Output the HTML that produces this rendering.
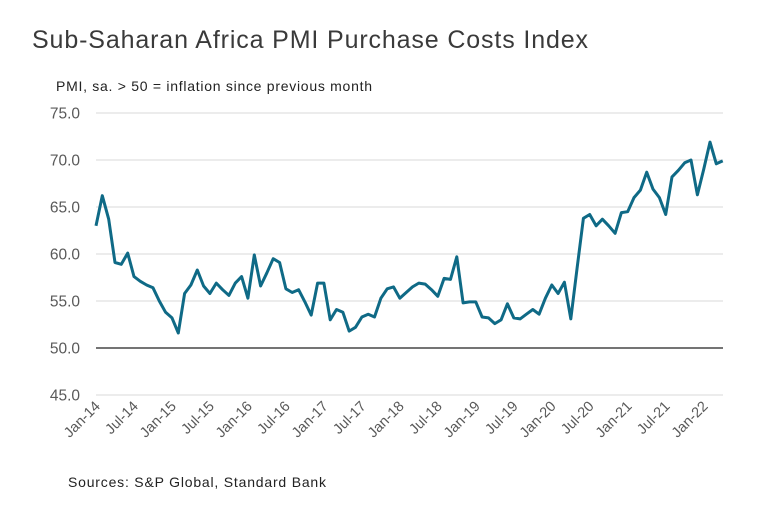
<!DOCTYPE html>
<html><head><meta charset="utf-8"><style>
body{margin:0;background:#fff;}
svg{display:block;font-family:"Liberation Sans",sans-serif;}
</style></head><body>
<svg id="chart" width="782" height="519">
<text x="32" y="48" font-size="25" fill="#3a3a3a" textLength="556" lengthAdjust="spacing">Sub-Saharan Africa PMI Purchase Costs Index</text>
<text x="56" y="91" font-size="14" fill="#222" textLength="316" lengthAdjust="spacing">PMI, sa. &gt; 50 = inflation  since previous  month</text>
<text x="68" y="487" font-size="14" fill="#222" textLength="258" lengthAdjust="spacing">Sources: S&amp;P Global, Standard Bank</text>
<g id="grid"></g><g id="xl"></g><g id="series"></g>
</svg>
<script>
const yTicks=[45,50,55,60,65,70,75];
const xTickLabels=["Jan-14","Jul-14","Jan-15","Jul-15","Jan-16","Jul-16","Jan-17","Jul-17","Jan-18","Jul-18","Jan-19","Jul-19","Jan-20","Jul-20","Jan-21","Jul-21","Jan-22"];
const pmiValues=[63.0,66.2,63.7,59.1,58.9,60.1,57.6,57.1,56.7,56.4,55.0,53.8,
53.2,51.6,55.8,56.7,58.3,56.6,55.8,56.9,56.2,55.6,56.9,57.6,
55.3,59.9,56.6,58.0,59.5,59.1,56.3,55.9,56.2,54.9,53.5,56.9,
56.9,53.0,54.1,53.8,51.8,52.2,53.3,53.6,53.3,55.3,56.3,56.5,
55.3,55.9,56.5,56.9,56.8,56.2,55.5,57.4,57.3,59.7,54.8,54.9,
54.9,53.3,53.2,52.6,53.0,54.7,53.2,53.1,53.6,54.1,53.6,55.3,
56.7,55.8,57.0,53.1,58.5,63.8,64.2,63.0,63.7,63.0,62.2,64.4,
64.5,66.0,66.8,68.7,66.9,66.0,64.2,68.2,68.9,69.7,70.0,66.3,
69.0,71.9,69.6,69.9];
const NS="http://www.w3.org/2000/svg";
const X=i=>96+i*6.33;
const Y=v=>348-(v-50)*9.4;
const grid=document.getElementById('grid');
yTicks.forEach(t=>{
 const l=document.createElementNS(NS,'line');
 l.setAttribute('x1',96);l.setAttribute('x2',723);
 l.setAttribute('y1',Y(t));l.setAttribute('y2',Y(t));
 l.setAttribute('stroke',t===50?'#222':'#d9d9d9');
 l.setAttribute('stroke-width',t===50?1.3:1);
 
 
 grid.appendChild(l);
 const tx=document.createElementNS(NS,'text');
 tx.setAttribute('x',80);tx.setAttribute('y',Y(t)+5.5);
 tx.setAttribute('text-anchor','end');tx.setAttribute('font-size','15.5');tx.setAttribute('fill','#595959');
 tx.textContent=t.toFixed(1);
 
 
 grid.appendChild(tx);
});
const xl=document.getElementById('xl');
xTickLabels.forEach((s,k)=>{
 const x=X(k*6)+5,y=407;
 const tx=document.createElementNS(NS,'text');
 tx.setAttribute('x',x);tx.setAttribute('y',y);
 tx.setAttribute('text-anchor','end');tx.setAttribute('font-size','14.5');tx.setAttribute('fill','#595959');
 tx.setAttribute('transform','rotate(-45 '+x+' '+y+')');
 tx.textContent=s;
 
 
 xl.appendChild(tx);
});
const p=document.createElementNS(NS,'polyline');
p.setAttribute('points',pmiValues.map((v,i)=>X(i).toFixed(1)+','+Y(v).toFixed(1)).join(' '));
p.setAttribute('fill','none');p.setAttribute('stroke','#0f6a86');p.setAttribute('stroke-width','3');p.setAttribute('stroke-linejoin','round');


document.getElementById('series').appendChild(p);
</script>
</body></html>
